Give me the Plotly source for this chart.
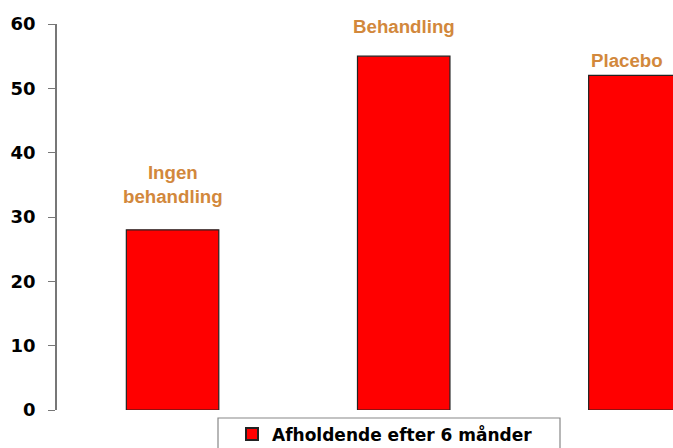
import plotly.graph_objects as go

categories = ["Ingen behandling", "Behandling", "Placebo"]
values = [28, 55, 52]
label_texts = ["Ingen<br>behandling", "Behandling", "Placebo"]
label_y = [35.1, 59.6, 54.4]
series_name = "Afholdende efter 6 månder"
y_ticks = [0, 10, 20, 30, 40, 50, 60]

FONT = "Arial, Liberation Sans, sans-serif"
HEAVY = "DejaVu Sans, sans-serif"
LABEL_COLOR = "#D2883C"

fig = go.Figure()
fig.add_trace(go.Bar(
    x=categories, y=values, name=series_name, width=0.4,
    marker=dict(color="#FF0000", line=dict(color="#222222", width=1.2)),
    showlegend=True,
))

for cat, txt, ly, dx in zip(categories, label_texts, label_y, [0, 0, -8]):
    fig.add_annotation(x=cat, y=ly, xref="x", yref="y", text=f"<b>{txt}</b>",
                       showarrow=False, xshift=dx, yanchor="middle",
                       font=dict(family=FONT, size=18.7, color=LABEL_COLOR))

fig.update_layout(
    width=673, height=448,
    margin=dict(l=57, r=0, t=24, b=38, autoexpand=False),
    paper_bgcolor="white", plot_bgcolor="white",
    showlegend=True,
    legend=dict(orientation="h", x=0.5325, xanchor="center", y=-0.017, yanchor="top",
                bgcolor="rgba(0,0,0,0)", borderwidth=0,
                font=dict(family=HEAVY, size=17, color="black", weight="bold"),
                itemsizing="constant"),
    xaxis=dict(range=[-0.5, 2.165], showline=False, showticklabels=False, ticks="",
               showgrid=False, zeroline=False, fixedrange=True),
    yaxis=dict(range=[0, 60], tickvals=y_ticks, ticks="outside", ticklen=7, tickcolor="#777777",
               showline=True, linecolor="#777777", linewidth=1.5, showgrid=False, zeroline=False,
               tickfont=dict(family=HEAVY, size=18, color="black", weight="bold"), ticklabelstandoff=9),
)

fig.add_shape(type="rect", xref="paper", yref="paper",
              x0=(218 - 57) / 616, x1=(560 - 57) / 616, y0=(410 - 455) / 386, y1=(410 - 418) / 386,
              line=dict(color="#888888", width=1.2), fillcolor="rgba(0,0,0,0)", layer="below")

fig.write_html("out.html", config={"displayModeBar": False},
               post_script="document.body.style.margin='0';document.body.style.overflow='hidden';")
